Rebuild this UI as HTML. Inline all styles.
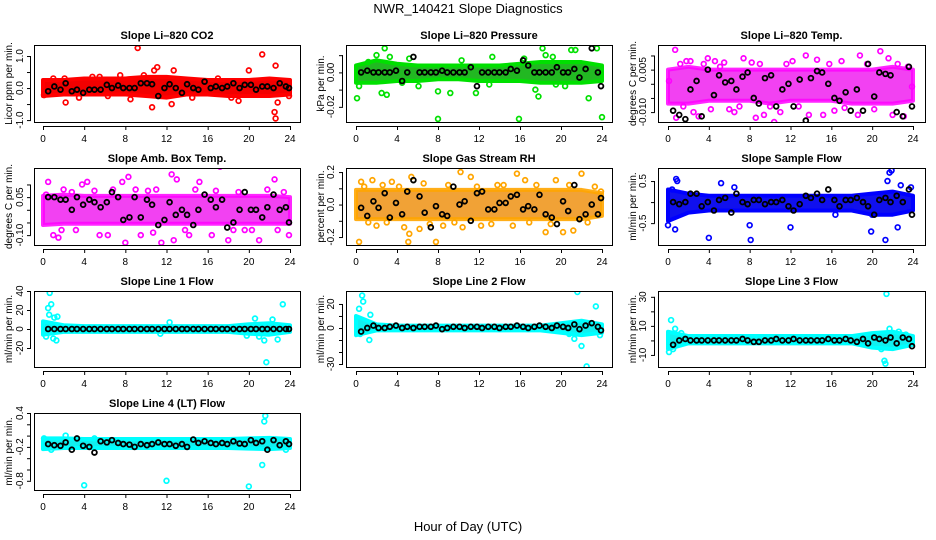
<!DOCTYPE html>
<html><head><meta charset="utf-8"><style>
html,body{margin:0;padding:0;background:#fff;}
svg{display:block;font-family:"Liberation Sans",Arial,sans-serif;}
</style></head><body>
<svg id="chart" width="936" height="540" viewBox="0 0 936 540" xmlns="http://www.w3.org/2000/svg">
<rect x="0" y="0" width="936" height="540" fill="#fff"/>
<text x="468" y="13" font-size="13" text-anchor="middle">NWR_140421   Slope Diagnostics</text>
<text x="468" y="531" font-size="13" text-anchor="middle">Hour of Day (UTC)</text>
</svg>
<script>
const xTicks = [0,4,8,12,16,20,24];
const bandHours = [0,2,4,6,8,10,12,14,16,18,20,22,24];
const blackHours = [0.5,1.1,1.7,2.2,2.8,3.3,3.9,4.5,5.0,5.6,6.2,6.7,7.3,7.8,8.4,8.9,9.5,10.1,10.6,11.2,11.8,12.3,12.9,13.5,14.0,14.6,15.1,15.7,16.3,16.8,17.4,17.9,18.5,19.1,19.6,20.2,20.7,21.3,21.8,22.4,23.0,23.6,23.9];

// Panel 1: CO2
const co2Lo = [-0.25,-0.2,-0.2,-0.2,-0.2,-0.25,-0.3,-0.2,-0.2,-0.25,-0.25,-0.25,-0.2];
const co2Hi = [0.25,0.25,0.3,0.3,0.3,0.35,0.35,0.3,0.25,0.25,0.25,0.3,0.25];
const co2Out = [[0.1,-0.22],[2.2,-0.45],[2.1,0.3],[4.8,0.35],[6.3,-0.25],[7.5,0.4],[8.5,-0.35],[9.2,1.25],[10.6,-0.6],[10.8,0.55],[11.1,0.65],[12.5,-0.5],[12.7,0.55],[19,-0.4],[20,0.55],[21.3,1.05],[22.5,-0.75],[22.6,-0.95],[22.6,0.7],[22.8,-0.45],[1,0.3],[3.5,-0.3],[5.5,0.35],[9.8,0.4],[14.5,-0.3],[17,0.3],[18.3,-0.3],[23.9,-0.25]];
const co2Black = [-0.1,0.05,-0.05,0.15,-0.1,-0.05,-0.15,-0.05,-0.05,-0.05,0.1,0.0,0.08,0.0,0.0,0.0,0.15,0.15,0.12,-0.25,0.0,0.12,0.0,-0.15,0.12,0.0,-0.05,0.2,0.0,0.05,0.0,0.05,0.15,0.0,0.1,0.1,-0.05,0.05,0.05,0.0,0.15,0.05,0.0];
const co2Ticks = [-1,-0.5,0,0.5,1];
const co2Labels = ["-1.0","","0.0","","1.0"];

// Panel 2: Pressure
const prLo = [-0.006,-0.006,-0.005,-0.005,-0.004,-0.004,-0.005,-0.005,-0.005,-0.006,-0.006,-0.006,-0.005];
const prHi = [0.004,0.007,0.005,0.004,0.004,0.004,0.004,0.004,0.005,0.006,0.006,0.006,0.004];
const prOut = [[0.1,-0.015],[0.3,-0.008],[2,0.01],[2.8,0.014],[2.5,-0.012],[3,-0.013],[3.3,0.009],[4.5,-0.006],[6.1,-0.008],[8,-0.027],[8,-0.011],[9.2,-0.012],[11.7,-0.012],[13.3,0.009],[15.9,-0.027],[16.4,0.008],[17.5,-0.01],[17.8,-0.014],[18.2,0.014],[18.5,0.01],[19.5,-0.007],[21,0.013],[21.4,0.013],[22.7,-0.015],[23.5,0.014],[24,-0.026],[1.2,0.006],[5.2,0.008],[10.3,0.007],[13,-0.007],[19.2,0.009],[20.4,-0.008]];
const prBlack = [0,0.001,0,0,0,0,0.001,-0.005,0,0.009,0,0,0,0,0.001,0,0,0,0,0.003,-0.008,0,0,0,0,0,0.002,0.001,0.007,0.004,0,0,0,0,0.003,0,0,0.002,-0.003,0.002,0.014,0,-0.008];
const prTicks = [-0.02,-0.01,0,0.01];
const prLabels = ["-0.02","","0.00",""];

// Panel 3: Li-820 Temp
const ltLo = [-0.007,-0.007,-0.006,-0.006,-0.006,-0.007,-0.006,-0.006,-0.006,-0.007,-0.007,-0.007,-0.006];
const ltHi = [0.005,0.006,0.005,0.005,0.005,0.005,0.005,0.005,0.005,0.005,0.005,0.006,0.005];
const ltOut = [[0.1,0.001],[0.7,0.012],[0.8,-0.012],[1.8,0.008],[2.5,-0.01],[3.0,-0.0115],[3.9,0.009],[4.2,-0.009],[5.1,0.006],[6,-0.009],[6.5,-0.01],[7.4,0.009],[8.6,-0.012],[9.4,-0.011],[10.4,-0.0135],[11,-0.01],[12.2,0.008],[13.5,0.01],[13.8,-0.011],[14.6,0.0085],[15.2,-0.011],[16.3,-0.0095],[17,0.008],[18.8,0.01],[18.6,-0.011],[20.8,0.0115],[21.6,0.009],[22,-0.011],[23.1,-0.0115],[23.9,-0.001],[1.2,0.007],[2.2,0.008],[4.6,0.008],[5.5,0.0075],[7,-0.008],[9,0.007],[10,-0.008],[11.6,0.007],[12.8,-0.008],[15.8,0.007],[17.3,-0.0085],[19.5,0.007],[20.2,-0.009],[22.5,0.007],[23.5,0.006],[1.5,-0.008],[3.5,0.007],[8.2,0.0075]];
const ltBlack = [-0.0095,-0.011,-0.0125,-0.002,0.001,-0.0115,0.005,-0.004,0.003,0.0005,0.001,-0.002,0.0025,0.004,-0.005,-0.007,0.002,0.003,-0.008,-0.002,0.0,-0.008,0.0015,-0.013,0.002,0.0045,0.004,0.0,-0.005,-0.006,-0.003,-0.0095,-0.002,-0.0095,0.007,-0.0045,0.004,0.0035,0.003,-0.01,-0.0115,0.006,-0.008];
const ltTicks = [-0.01,-0.005,0,0.005,0.01];
const ltLabels = ["-0.010","","","0.005",""];

// Panel 4: Amb Box Temp
const abLo = [-0.06,-0.055,-0.055,-0.055,-0.055,-0.055,-0.055,-0.055,-0.055,-0.055,-0.055,-0.055,-0.055];
const abHi = [0.055,0.06,0.055,0.055,0.055,0.055,0.055,0.055,0.055,0.055,0.055,0.055,0.05];
const abOut = [[0.5,0.11],[1,-0.1],[1.5,-0.11],[2,0.08],[3.8,0.1],[4.3,0.11],[5.5,-0.1],[6.3,-0.1],[7.7,0.11],[8,-0.13],[8.3,0.13],[9.5,-0.1],[10.7,-0.09],[11.5,-0.13],[12.5,0.14],[13,0.12],[12.7,-0.12],[14.2,-0.1],[15.2,0.11],[16.4,-0.1],[17.2,0.17],[18,-0.12],[19.6,-0.08],[21,-0.12],[22.5,0.12],[23.9,-0.1],[0.3,0.06],[1.8,-0.08],[2.8,0.07],[3.2,-0.08],[5,0.075],[6.8,0.08],[9,0.08],[10.2,0.075],[11,0.08],[13.8,-0.08],[14.8,0.08],[16.8,0.075],[18.5,-0.08],[19,0.07],[20.3,-0.08],[21.8,0.08],[22.8,-0.08],[23.4,0.07]];
const abBlack = [0.05,0.05,0.04,0.04,0.0,0.05,0.02,0.04,0.03,0.01,0.03,0.07,0.05,-0.04,-0.03,0.05,-0.03,0.04,0.02,-0.06,-0.04,0.03,-0.02,0.0,-0.02,-0.06,0.0,0.06,0.04,0.01,0.04,-0.07,-0.05,0.0,0.07,0.0,0.0,-0.03,0.01,0.06,0.0,0.01,-0.05];
const abTicks = [-0.1,-0.05,0,0.05,0.1];
const abLabels = ["-0.10","","","0.05",""];

// Panel 5: Gas Stream RH
const rhLo = [-0.09,-0.09,-0.09,-0.09,-0.09,-0.09,-0.09,-0.09,-0.09,-0.09,-0.09,-0.09,-0.07];
const rhHi = [0.09,0.09,0.09,0.09,0.09,0.09,0.09,0.09,0.09,0.09,0.09,0.09,0.07];
const rhOut = [[0.3,-0.23],[0.5,0.14],[1.6,0.15],[2,-0.13],[3.5,0.14],[4.7,-0.14],[5.1,-0.23],[5.2,-0.18],[5.4,0.17],[6.2,-0.15],[7.8,-0.23],[8.5,-0.13],[10.2,0.2],[10.4,-0.14],[11.2,0.17],[12.2,-0.13],[13.8,0.12],[15.7,0.19],[15.3,-0.13],[16.5,0.15],[18.5,-0.17],[19.5,0.15],[20.2,-0.17],[21.2,-0.16],[22,0.19],[23.9,0.08],[0.8,0.11],[1.2,-0.11],[2.6,0.12],[3,-0.11],[4.2,0.11],[6.6,0.13],[7.2,-0.12],[9,0.12],[9.6,-0.11],[11.8,0.11],[13.2,-0.12],[14.4,0.12],[16.9,-0.11],[17.6,0.12],[19,-0.12],[20.8,0.12],[22.6,-0.11],[23.3,0.11]];
const rhBlack = [-0.02,-0.07,0.02,-0.02,0.07,-0.08,0.01,-0.06,0.08,0.15,0.05,-0.05,-0.14,-0.01,-0.06,-0.07,0.11,0.0,0.02,-0.1,0.07,0.08,-0.03,-0.03,0.01,0.01,0.05,0.06,-0.03,-0.01,-0.03,0.06,-0.06,-0.08,-0.12,0.02,-0.04,0.12,-0.09,-0.06,0.0,-0.06,0.04];
const rhTicks = [-0.2,-0.1,0,0.1,0.2];
const rhLabels = ["-0.2","","0.0","","0.2"];

// Panel 6: Sample Flow
const sfLo = [-0.45,-0.25,-0.2,-0.2,-0.2,-0.2,-0.2,-0.2,-0.2,-0.2,-0.3,-0.3,-0.2];
const sfHi = [0.3,0.2,0.15,0.15,0.15,0.15,0.15,0.15,0.15,0.15,0.2,0.25,0.15];
const sfOut = [[0,-0.55],[0.4,0.3],[0.7,-0.65],[0.8,0.55],[0.9,0.5],[4,-0.85],[5.2,0.45],[6.5,0.35],[8,-0.55],[8.1,-0.9],[12,-0.6],[16.4,-0.3],[19.9,-0.7],[20,-0.3],[21.3,-0.9],[21.5,0.5],[21.7,0.7],[21.9,0.75],[22.5,-0.6],[22.8,0.4],[23.8,0.35]];
const sfBlack = [0.0,-0.05,0.0,0.2,0.2,-0.1,0.0,-0.2,0.05,0.1,-0.25,0.2,0.0,-0.05,0.05,0.05,-0.05,0.0,0.0,0.05,-0.1,-0.2,-0.05,0.15,0.1,0.2,0.05,0.3,0.05,-0.1,0.05,0.05,0.1,0.0,-0.1,-0.3,0.05,0.1,0.0,0.15,0.0,0.3,-0.3];
const sfTicks = [-0.5,0,0.5];
const sfLabels = ["-0.5","","0.5"];

// Panel 7: Line 1 Flow
const l1Lo = [-6,-3,-3,-3,-3,-3,-3,-3,-3,-3,-5,-6,-3];
const l1Hi = [8,4,3,3,3,3,3,3,3,3,5,6,4];
const l1Out = [[0.3,-8],[0.5,22],[0.6,15],[0.65,38],[0.8,26],[1,-10],[1.3,-12],[1.4,13],[1.1,12],[11.4,-5],[12.3,7],[19.8,-7],[20.6,11],[21,-8],[21.5,-12],[21.7,-35],[22.3,10],[22.8,-11],[23.3,26]];
const l1Black = [0,0,0,0,0,0,0,0,0,0,0,0,0,0,0,0,0,0,0,0,0,0,0,0,0,0,0,0,0,0,0,0,0,0,0,0,0,0,0,0,0,0,0];
const l1Ticks = [-20,0,20,40];
const l1Labels = ["-20","0","20","40"];

// Panel 8: Line 2 Flow
const l2Lo = [-6,-2,-2,-2,-2,-2,-2,-2,-2,-2,-4,-6,-4];
const l2Hi = [10,3,2,2,2,2,2,2,2,2,4,6,3];
const l2Out = [[0.3,16],[0.4,-5],[0.6,27],[0.7,22],[1.3,-10],[1.4,11],[20.8,-5],[21.3,-9],[21.6,30],[22,-15],[22.5,-32],[23.4,18],[23.8,-6]];
const l2Black = [-3,0,2,0,0,1,2,0,1,0,1,1,1,2,-1,0,1,1,0,1,1,0,1,1,0,1,1,2,1,0,1,2,1,0,2,1,0,3,-1,2,4,1,-2];
const l2Ticks = [-30,-20,-10,0,10,20];
const l2Labels = ["-30","","","0","","20"];

// Panel 9: Line 3 Flow
const l3Lo = [-6,-2,-2,-2,-2,-2,-2,-2,-2,-2,-5,-6,-3];
const l3Hi = [6,3,3,3,3,3,3,3,3,3,5,6,3];
const l3Out = [[0.1,-8],[0.3,14],[0.5,-6],[0.7,8],[1.3,5],[20.9,-6],[21.3,-16],[21.2,-14],[21.4,32],[21.7,8],[22.6,6],[23.3,4]];
const l3Black = [-3,0,1,0,0,0,0,0,0,0,0,0,1,0,-1,-1,0,0,1,0,0,1,0,0,0,0,0,1,0,0,1,0,-1,1,-2,2,1,0,2,-2,2,1,-4];
const l3Ticks = [-10,0,10,20,30];
const l3Labels = ["-10","","10","","30"];

// Panel 10: Line 4 (LT) Flow
const l4Lo = [-0.24,-0.22,-0.22,-0.22,-0.22,-0.22,-0.22,-0.22,-0.22,-0.22,-0.23,-0.24,-0.22];
const l4Hi = [-0.05,-0.05,-0.06,-0.06,-0.06,-0.06,-0.06,-0.06,-0.06,-0.06,-0.05,-0.04,-0.06];
const l4Out = [[0.1,-0.05],[0.8,-0.25],[2.2,0.0],[4,-0.88],[5,-0.05],[12,-0.8],[20,-0.9],[21.3,-0.52],[21.5,0.25],[21.6,0.35],[23.6,-0.25]];
const l4Black = [-0.15,-0.17,-0.18,-0.12,-0.25,-0.05,-0.18,-0.2,-0.3,-0.1,-0.12,-0.08,-0.13,-0.15,-0.16,-0.2,-0.15,-0.17,-0.15,-0.12,-0.15,-0.15,-0.18,-0.15,-0.2,-0.07,-0.13,-0.1,-0.13,-0.15,-0.13,-0.15,-0.1,-0.14,-0.15,-0.08,-0.13,-0.1,-0.25,-0.08,-0.17,-0.1,-0.15];
const l4Ticks = [-0.8,-0.6,-0.4,-0.2,0,0.2,0.4];
const l4Labels = ["-0.8","","","-0.2","","","0.4"];

const svg = document.getElementById('chart');
const NS = 'http://www.w3.org/2000/svg';
function mk(tag, attrs, parent){
  const e = document.createElementNS(NS, tag);
  for (const k in attrs) e.setAttribute(k, attrs[k]);
  (parent||svg).appendChild(e);
  return e;
}

const cols = [{L:34,R:300,x0:43,x24:290,yl:8,tl:23},{L:346,R:612,x0:356,x24:602,yl:320,tl:334},{L:658,R:925,x0:668,x24:913,yl:632,tl:646}];
const rows = [{T:45,B:122},{T:168,B:245},{T:291,B:367},{T:413,B:490}];

const panels = [
  {id:'co2',title:'Slope Li\u2013820 CO2',ylab:'Licor ppm per min.',c:0,r:0,top:1.344,bot:-1.06,color:'#ff0000',band:'#f20000',op:1,lo:co2Lo,hi:co2Hi,out:co2Out,blk:co2Black,ticks:co2Ticks,labels:co2Labels},
  {id:'pressure',title:'Slope Li\u2013820 Pressure',ylab:'kPa per min.',c:1,r:0,top:0.0159,bot:-0.0288,color:'#00e000',band:'#22b822',op:1,lo:prLo,hi:prHi,out:prOut,blk:prBlack,ticks:prTicks,labels:prLabels},
  {id:'li-temp',title:'Slope Li\u2013820 Temp.',ylab:'degrees C per min.',c:2,r:0,top:0.0137,bot:-0.0135,color:'#ff00ff',band:'#f020f0',op:0.85,lo:ltLo,hi:ltHi,out:ltOut,blk:ltBlack,ticks:ltTicks,labels:ltLabels},
  {id:'amb-temp',title:'Slope Amb. Box Temp.',ylab:'degrees C per min.',c:0,r:1,top:0.165,bot:-0.139,color:'#ff00ff',band:'#f020f0',op:0.85,lo:abLo,hi:abHi,out:abOut,blk:abBlack,ticks:abTicks,labels:abLabels},
  {id:'rh',title:'Slope Gas Stream RH',ylab:'percent per min.',c:1,r:1,top:0.225,bot:-0.249,color:'#ffa500',band:'#f09820',op:0.9,lo:rhLo,hi:rhHi,out:rhOut,blk:rhBlack,ticks:rhTicks,labels:rhLabels},
  {id:'sample-flow',title:'Slope Sample Flow',ylab:'ml/min per min.',c:2,r:1,top:0.81,bot:-1.02,color:'#0000ff',band:'#1010ee',op:1,lo:sfLo,hi:sfHi,out:sfOut,blk:sfBlack,ticks:sfTicks,labels:sfLabels},
  {id:'line1',title:'Slope Line 1 Flow',ylab:'ml/min per min.',c:0,r:2,top:40,bot:-40,color:'#00ffff',band:'#10f0f0',op:1,lo:l1Lo,hi:l1Hi,out:l1Out,blk:l1Black,ticks:l1Ticks,labels:l1Labels},
  {id:'line2',title:'Slope Line 2 Flow',ylab:'ml/min per min.',c:1,r:2,top:30.8,bot:-32.5,color:'#00ffff',band:'#10f0f0',op:1,lo:l2Lo,hi:l2Hi,out:l2Out,blk:l2Black,ticks:l2Ticks,labels:l2Labels},
  {id:'line3',title:'Slope Line 3 Flow',ylab:'ml/min per min.',c:2,r:2,top:34,bot:-18.3,color:'#00ffff',band:'#10f0f0',op:1,lo:l3Lo,hi:l3Hi,out:l3Out,blk:l3Black,ticks:l3Ticks,labels:l3Labels},
  {id:'line4',title:'Slope Line 4 (LT) Flow',ylab:'ml/min per min.',c:0,r:3,top:0.4,bot:-0.963,color:'#00ffff',band:'#10f0f0',op:1,lo:l4Lo,hi:l4Hi,out:l4Out,blk:l4Black,ticks:l4Ticks,labels:l4Labels}
];

panels.forEach(p => {
  const col = cols[p.c], row = rows[p.r];
  const g = mk('g', {});
  
  
  const xs = h => col.x0 + (col.x24 - col.x0) * h / 24;
  const ys = v => row.T + (p.top - v) / (p.top - p.bot) * (row.B - row.T);
  const clipId = 'clip-' + p.id;
  const cp = mk('clipPath', {id: clipId}, g);
  mk('rect', {x: col.L, y: row.T, width: col.R - col.L, height: row.B - row.T}, cp);
  const data = mk('g', {'clip-path': 'url(#' + clipId + ')'}, g);
  
  
  let pts = [];
  for (let i = 0; i < bandHours.length; i++) pts.push(xs(bandHours[i]) + ',' + ys(p.hi[i]));
  for (let i = bandHours.length - 1; i >= 0; i--) pts.push(xs(bandHours[i]) + ',' + ys(p.lo[i]));
  const band = mk('polygon', {points: pts.join(' '), fill: p.band, 'fill-opacity': p.op, stroke: p.color, 'stroke-opacity': p.op, 'stroke-width': 4, 'stroke-linejoin': 'round'}, data);
  
  
  p.out.forEach(d => {
    const c = mk('circle', {cx: xs(d[0]), cy: ys(d[1]), r: 2.4, fill: 'none', stroke: p.color, 'stroke-width': 1.7}, data);
    
    
  });
  const n = Math.min(blackHours.length, p.blk.length);
  for (let i = 0; i < n; i++) {
    const c = mk('circle', {cx: xs(blackHours[i]), cy: ys(p.blk[i]), r: 2.4, fill: 'none', stroke: '#000', 'stroke-width': 1.8}, data);
    
    
  }
  const box = mk('rect', {x: col.L + 0.5, y: row.T + 0.5, width: col.R - col.L, height: row.B - row.T, fill: 'none', stroke: '#000', 'stroke-width': 1}, g);
  
  
  const t = mk('text', {x: (col.L + col.R) / 2, y: row.T - 6, 'font-size': 11, 'font-weight': 'bold', 'text-anchor': 'middle'}, g);
  t.textContent = p.title;
  
  
  const xa = mk('g', {}, g);
  
  
  mk('line', {x1: xs(0), x2: xs(24), y1: row.B + 4.5, y2: row.B + 4.5, stroke: '#000'}, xa);
  xTicks.forEach(v => {
    mk('line', {x1: xs(v) + 0.5, x2: xs(v) + 0.5, y1: row.B + 4, y2: row.B + 8, stroke: '#000'}, xa);
    const tl = mk('text', {x: xs(v), y: row.B + 20, 'font-size': 10, 'text-anchor': 'middle'}, xa);
    tl.textContent = v;
    
    
  });
  const ya = mk('g', {}, g);
  
  
  const yv0 = ys(p.ticks[0]), yv1 = ys(p.ticks[p.ticks.length - 1]);
  mk('line', {x1: col.L - 3.5, x2: col.L - 3.5, y1: yv0, y2: yv1, stroke: '#000'}, ya);
  p.ticks.forEach((v, i) => {
    const yy = ys(v);
    mk('line', {x1: col.L - 7, x2: col.L - 3, y1: yy + 0.5, y2: yy + 0.5, stroke: '#000'}, ya);
    if (p.labels[i]) {
      const tl = mk('text', {x: col.tl, y: yy, 'font-size': 10, 'text-anchor': 'middle', transform: 'rotate(-90 ' + col.tl + ' ' + yy + ')'}, ya);
      tl.textContent = p.labels[i];
      
      
    }
  });
  const cy = (row.T + row.B) / 2;
  const yl = mk('text', {x: col.yl + 4, y: cy, 'font-size': 10, 'text-anchor': 'middle', transform: 'rotate(-90 ' + (col.yl + 4) + ' ' + cy + ')'}, g);
  yl.textContent = p.ylab;
  
  
});
</script>
</body></html>
